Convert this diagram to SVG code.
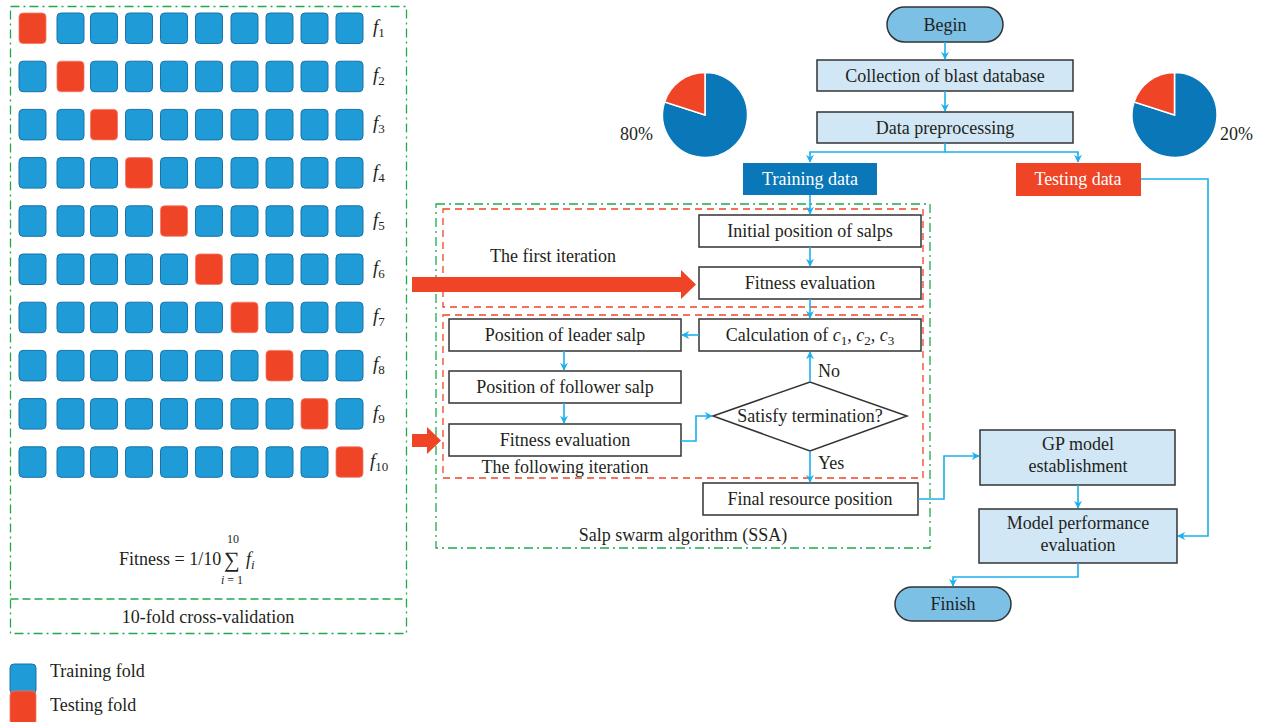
<svg xmlns="http://www.w3.org/2000/svg" width="1261" height="722" viewBox="0 0 1261 722">
<style>
text{font-family:"Liberation Serif","Times New Roman",serif;font-size:18px;fill:#231f20}
.tr{fill:#1f9bd7;stroke:#1a72a6;stroke-width:1}
.te{fill:#ef4426;stroke:#f07a66;stroke-width:0.8}
.fl{font-style:italic;font-size:19px}
.sub{font-size:13px;font-style:normal}
.subi{font-size:13px;font-style:italic}
.grn{fill:none;stroke:#1faa4a;stroke-width:1.3;stroke-dasharray:9 4 2 4}
.grnd{fill:none;stroke:#1faa4a;stroke-width:1.3;stroke-dasharray:8 4}
.red{fill:none;stroke:#ef4426;stroke-width:1.3;stroke-dasharray:7 5}
.lb{fill:#d1e7f5;stroke:#333;stroke-width:1.5}
.wb{fill:#fff;stroke:#333;stroke-width:1.5}
.pill{fill:#7cc0e6;stroke:#333;stroke-width:1.5}
.c{fill:none;stroke:#1cb0ee;stroke-width:1.6}
.m{text-anchor:middle}
.wt{fill:#fff}
</style>
<defs>
<marker id="ah" viewBox="0 0 10 10" refX="9" refY="5" markerWidth="8" markerHeight="8" markerUnits="userSpaceOnUse" orient="auto">
<path d="M0,0 L10,5 L0,10 L3,5 z" fill="#1cb0ee"/>
</marker>
</defs>

<g id="cross-validation">
<rect class="grn" x="10.5" y="6.5" width="396" height="627"/>
<line class="grnd" x1="10.5" y1="599" x2="406.5" y2="599"/>
<text class="m" x="208" y="623">10-fold cross-validation</text>
<g id="grid">
<g id="row1"><rect class="te" x="19" y="13" width="27" height="30.5" rx="4"/><rect class="tr" x="57" y="13" width="27" height="30.5" rx="4"/><rect class="tr" x="90.5" y="13" width="27" height="30.5" rx="4"/><rect class="tr" x="125.5" y="13" width="27" height="30.5" rx="4"/><rect class="tr" x="160.5" y="13" width="27" height="30.5" rx="4"/><rect class="tr" x="195.5" y="13" width="27" height="30.5" rx="4"/><rect class="tr" x="231" y="13" width="27" height="30.5" rx="4"/><rect class="tr" x="266" y="13" width="27" height="30.5" rx="4"/><rect class="tr" x="301" y="13" width="27" height="30.5" rx="4"/><rect class="tr" x="336" y="13" width="27" height="30.5" rx="4"/><text class="fl" x="373" y="33">f<tspan class="sub" dy="4">1</tspan></text></g>
<g id="row2"><rect class="tr" x="19" y="61.2" width="27" height="30.5" rx="4"/><rect class="te" x="57" y="61.2" width="27" height="30.5" rx="4"/><rect class="tr" x="90.5" y="61.2" width="27" height="30.5" rx="4"/><rect class="tr" x="125.5" y="61.2" width="27" height="30.5" rx="4"/><rect class="tr" x="160.5" y="61.2" width="27" height="30.5" rx="4"/><rect class="tr" x="195.5" y="61.2" width="27" height="30.5" rx="4"/><rect class="tr" x="231" y="61.2" width="27" height="30.5" rx="4"/><rect class="tr" x="266" y="61.2" width="27" height="30.5" rx="4"/><rect class="tr" x="301" y="61.2" width="27" height="30.5" rx="4"/><rect class="tr" x="336" y="61.2" width="27" height="30.5" rx="4"/><text class="fl" x="373" y="81.2">f<tspan class="sub" dy="4">2</tspan></text></g>
<g id="row3"><rect class="tr" x="19" y="109.4" width="27" height="30.5" rx="4"/><rect class="tr" x="57" y="109.4" width="27" height="30.5" rx="4"/><rect class="te" x="90.5" y="109.4" width="27" height="30.5" rx="4"/><rect class="tr" x="125.5" y="109.4" width="27" height="30.5" rx="4"/><rect class="tr" x="160.5" y="109.4" width="27" height="30.5" rx="4"/><rect class="tr" x="195.5" y="109.4" width="27" height="30.5" rx="4"/><rect class="tr" x="231" y="109.4" width="27" height="30.5" rx="4"/><rect class="tr" x="266" y="109.4" width="27" height="30.5" rx="4"/><rect class="tr" x="301" y="109.4" width="27" height="30.5" rx="4"/><rect class="tr" x="336" y="109.4" width="27" height="30.5" rx="4"/><text class="fl" x="373" y="129.4">f<tspan class="sub" dy="4">3</tspan></text></g>
<g id="row4"><rect class="tr" x="19" y="157.6" width="27" height="30.5" rx="4"/><rect class="tr" x="57" y="157.6" width="27" height="30.5" rx="4"/><rect class="tr" x="90.5" y="157.6" width="27" height="30.5" rx="4"/><rect class="te" x="125.5" y="157.6" width="27" height="30.5" rx="4"/><rect class="tr" x="160.5" y="157.6" width="27" height="30.5" rx="4"/><rect class="tr" x="195.5" y="157.6" width="27" height="30.5" rx="4"/><rect class="tr" x="231" y="157.6" width="27" height="30.5" rx="4"/><rect class="tr" x="266" y="157.6" width="27" height="30.5" rx="4"/><rect class="tr" x="301" y="157.6" width="27" height="30.5" rx="4"/><rect class="tr" x="336" y="157.6" width="27" height="30.5" rx="4"/><text class="fl" x="373" y="177.6">f<tspan class="sub" dy="4">4</tspan></text></g>
<g id="row5"><rect class="tr" x="19" y="205.8" width="27" height="30.5" rx="4"/><rect class="tr" x="57" y="205.8" width="27" height="30.5" rx="4"/><rect class="tr" x="90.5" y="205.8" width="27" height="30.5" rx="4"/><rect class="tr" x="125.5" y="205.8" width="27" height="30.5" rx="4"/><rect class="te" x="160.5" y="205.8" width="27" height="30.5" rx="4"/><rect class="tr" x="195.5" y="205.8" width="27" height="30.5" rx="4"/><rect class="tr" x="231" y="205.8" width="27" height="30.5" rx="4"/><rect class="tr" x="266" y="205.8" width="27" height="30.5" rx="4"/><rect class="tr" x="301" y="205.8" width="27" height="30.5" rx="4"/><rect class="tr" x="336" y="205.8" width="27" height="30.5" rx="4"/><text class="fl" x="373" y="225.8">f<tspan class="sub" dy="4">5</tspan></text></g>
<g id="row6"><rect class="tr" x="19" y="254" width="27" height="30.5" rx="4"/><rect class="tr" x="57" y="254" width="27" height="30.5" rx="4"/><rect class="tr" x="90.5" y="254" width="27" height="30.5" rx="4"/><rect class="tr" x="125.5" y="254" width="27" height="30.5" rx="4"/><rect class="tr" x="160.5" y="254" width="27" height="30.5" rx="4"/><rect class="te" x="195.5" y="254" width="27" height="30.5" rx="4"/><rect class="tr" x="231" y="254" width="27" height="30.5" rx="4"/><rect class="tr" x="266" y="254" width="27" height="30.5" rx="4"/><rect class="tr" x="301" y="254" width="27" height="30.5" rx="4"/><rect class="tr" x="336" y="254" width="27" height="30.5" rx="4"/><text class="fl" x="373" y="274">f<tspan class="sub" dy="4">6</tspan></text></g>
<g id="row7"><rect class="tr" x="19" y="302.2" width="27" height="30.5" rx="4"/><rect class="tr" x="57" y="302.2" width="27" height="30.5" rx="4"/><rect class="tr" x="90.5" y="302.2" width="27" height="30.5" rx="4"/><rect class="tr" x="125.5" y="302.2" width="27" height="30.5" rx="4"/><rect class="tr" x="160.5" y="302.2" width="27" height="30.5" rx="4"/><rect class="tr" x="195.5" y="302.2" width="27" height="30.5" rx="4"/><rect class="te" x="231" y="302.2" width="27" height="30.5" rx="4"/><rect class="tr" x="266" y="302.2" width="27" height="30.5" rx="4"/><rect class="tr" x="301" y="302.2" width="27" height="30.5" rx="4"/><rect class="tr" x="336" y="302.2" width="27" height="30.5" rx="4"/><text class="fl" x="373" y="322.2">f<tspan class="sub" dy="4">7</tspan></text></g>
<g id="row8"><rect class="tr" x="19" y="350.4" width="27" height="30.5" rx="4"/><rect class="tr" x="57" y="350.4" width="27" height="30.5" rx="4"/><rect class="tr" x="90.5" y="350.4" width="27" height="30.5" rx="4"/><rect class="tr" x="125.5" y="350.4" width="27" height="30.5" rx="4"/><rect class="tr" x="160.5" y="350.4" width="27" height="30.5" rx="4"/><rect class="tr" x="195.5" y="350.4" width="27" height="30.5" rx="4"/><rect class="tr" x="231" y="350.4" width="27" height="30.5" rx="4"/><rect class="te" x="266" y="350.4" width="27" height="30.5" rx="4"/><rect class="tr" x="301" y="350.4" width="27" height="30.5" rx="4"/><rect class="tr" x="336" y="350.4" width="27" height="30.5" rx="4"/><text class="fl" x="373" y="370.4">f<tspan class="sub" dy="4">8</tspan></text></g>
<g id="row9"><rect class="tr" x="19" y="398.6" width="27" height="30.5" rx="4"/><rect class="tr" x="57" y="398.6" width="27" height="30.5" rx="4"/><rect class="tr" x="90.5" y="398.6" width="27" height="30.5" rx="4"/><rect class="tr" x="125.5" y="398.6" width="27" height="30.5" rx="4"/><rect class="tr" x="160.5" y="398.6" width="27" height="30.5" rx="4"/><rect class="tr" x="195.5" y="398.6" width="27" height="30.5" rx="4"/><rect class="tr" x="231" y="398.6" width="27" height="30.5" rx="4"/><rect class="tr" x="266" y="398.6" width="27" height="30.5" rx="4"/><rect class="te" x="301" y="398.6" width="27" height="30.5" rx="4"/><rect class="tr" x="336" y="398.6" width="27" height="30.5" rx="4"/><text class="fl" x="373" y="418.6">f<tspan class="sub" dy="4">9</tspan></text></g>
<g id="row10"><rect class="tr" x="19" y="446.8" width="27" height="30.5" rx="4"/><rect class="tr" x="57" y="446.8" width="27" height="30.5" rx="4"/><rect class="tr" x="90.5" y="446.8" width="27" height="30.5" rx="4"/><rect class="tr" x="125.5" y="446.8" width="27" height="30.5" rx="4"/><rect class="tr" x="160.5" y="446.8" width="27" height="30.5" rx="4"/><rect class="tr" x="195.5" y="446.8" width="27" height="30.5" rx="4"/><rect class="tr" x="231" y="446.8" width="27" height="30.5" rx="4"/><rect class="tr" x="266" y="446.8" width="27" height="30.5" rx="4"/><rect class="tr" x="301" y="446.8" width="27" height="30.5" rx="4"/><rect class="te" x="336" y="446.8" width="27" height="30.5" rx="4"/><text class="fl" x="370" y="466.8">f<tspan class="sub" dy="4">10</tspan></text></g>
</g>
<g id="formula">
<text x="119" y="565">Fitness = 1/10</text>
<text x="224" y="567" style="font-size:22px">∑</text>
<text class="m" x="233" y="543" style="font-size:12px">10</text>
<text class="m" x="232" y="584" style="font-size:12px"><tspan font-style="italic">i</tspan> = 1</text>
<text class="fl" x="246" y="565" style="font-size:18px">f<tspan class="subi" dy="4">i</tspan></text>
</g>
</g>

<g id="legend">
<rect class="tr" x="10" y="664" width="26" height="30" rx="4"/>
<rect class="te" x="10" y="691" width="26" height="34" rx="4"/>
<text x="50" y="677">Training fold</text>
<text x="50" y="711">Testing fold</text>
</g>

<g id="pie-train">
<path d="M705,115 L705,72.5 A42.5,42.5 0 1,1 664.6,101.9 Z" fill="#0a77b8" stroke="#fff" stroke-width="1.5"/>
<path d="M705,115 L705,72.5 A42.5,42.5 0 0,0 664.6,101.9 Z" fill="#ef4426" stroke="#fff" stroke-width="1.5"/>
<text x="620" y="140">80%</text>
</g>
<g id="pie-test">
<path d="M1174.5,115 L1174.5,72.5 A42.5,42.5 0 1,1 1134.1,101.9 Z" fill="#0a77b8" stroke="#fff" stroke-width="1.5"/>
<path d="M1174.5,115 L1174.5,72.5 A42.5,42.5 0 0,0 1134.1,101.9 Z" fill="#ef4426" stroke="#fff" stroke-width="1.5"/>
<text x="1220" y="140">20%</text>
</g>

<g id="ssa-frame">
<rect class="grn" x="436" y="204" width="494" height="344"/>
<rect class="red" x="443" y="209" width="480" height="98"/>
<rect class="red" x="443" y="315" width="480" height="163"/>
<text x="490" y="262">The first iteration</text>
<text class="m" x="565" y="473">The following iteration</text>
<text class="m" x="683" y="541">Salp swarm algorithm (SSA)</text>
</g>

<g id="big-arrows">
<path d="M412,277 H681 V270 L696,284.5 L681,299 V292 H412 Z" fill="#ef4426"/>
<path d="M412,434 H427 V427 L441,440.5 L427,454 V447 H412 Z" fill="#ef4426"/>
</g>

<g id="begin"><rect class="pill" x="887" y="7" width="116" height="35" rx="17.5"/><text class="m" x="945" y="31">Begin</text></g>
<g id="collection"><rect class="lb" x="817" y="60" width="256" height="31"/><text class="m" x="945" y="81.5">Collection of blast database</text></g>
<g id="preprocessing"><rect class="lb" x="817" y="112" width="256" height="31"/><text class="m" x="945" y="133.5">Data preprocessing</text></g>
<g id="training-data"><rect x="743" y="163" width="134" height="32" fill="#0a77b8"/><text class="m wt" x="810" y="185">Training data</text></g>
<g id="testing-data"><rect x="1016" y="163" width="125" height="33" fill="#ef4426"/><text class="m wt" x="1078" y="185">Testing data</text></g>
<g id="initial"><rect class="wb" x="699" y="215" width="222" height="32"/><text class="m" x="810" y="237">Initial position of salps</text></g>
<g id="fitness1"><rect class="wb" x="699" y="267" width="222" height="32"/><text class="m" x="810" y="289">Fitness evaluation</text></g>
<g id="calculation"><rect class="wb" x="699" y="319" width="222" height="32"/><text class="m" x="810" y="341">Calculation of <tspan font-style="italic">c</tspan><tspan class="sub" dy="4">1</tspan><tspan dy="-4">, </tspan><tspan font-style="italic">c</tspan><tspan class="sub" dy="4">2</tspan><tspan dy="-4">, </tspan><tspan font-style="italic">c</tspan><tspan class="sub" dy="4">3</tspan></text></g>
<g id="leader"><rect class="wb" x="449" y="319" width="232" height="32"/><text class="m" x="565" y="341">Position of leader salp</text></g>
<g id="follower"><rect class="wb" x="449" y="371" width="232" height="32"/><text class="m" x="565" y="393">Position of follower salp</text></g>
<g id="fitness2"><rect class="wb" x="449" y="424" width="232" height="32"/><text class="m" x="565" y="446">Fitness evaluation</text></g>
<g id="termination"><polygon class="wb" points="713,416 810,382 907,416 810,451"/><text class="m" x="810" y="422">Satisfy termination?</text></g>
<g id="final"><rect class="wb" x="703" y="483" width="215" height="32"/><text class="m" x="810" y="505">Final resource position</text></g>
<g id="gp"><rect class="lb" x="980" y="430" width="195" height="55"/><text class="m" x="1078" y="450">GP model</text><text class="m" x="1078" y="472">establishment</text></g>
<g id="performance"><rect class="lb" x="979" y="509" width="198" height="54"/><text class="m" x="1078" y="529">Model performance</text><text class="m" x="1078" y="551">evaluation</text></g>
<g id="finish"><rect class="pill" x="895" y="587" width="116" height="34" rx="17"/><text class="m" x="953" y="610">Finish</text></g>

<g id="connectors">
<path class="c" d="M945,42 V59" marker-end="url(#ah)"/>
<path class="c" d="M945,91 V111" marker-end="url(#ah)"/>
<path class="c" d="M945,143 V152 H810 V162" marker-end="url(#ah)"/>
<path class="c" d="M945,152 H1078 V162" marker-end="url(#ah)"/>
<path class="c" d="M1141,179 H1208 V536 H1178" marker-end="url(#ah)"/>
<path class="c" d="M810,195 V214" marker-end="url(#ah)"/>
<path class="c" d="M810,247 V266" marker-end="url(#ah)"/>
<path class="c" d="M810,299 V318" marker-end="url(#ah)"/>
<path class="c" d="M699,335 H682" marker-end="url(#ah)"/>
<path class="c" d="M564,351 V370" marker-end="url(#ah)"/>
<path class="c" d="M564,403 V423" marker-end="url(#ah)"/>
<path class="c" d="M681,441 H696 V416 H712" marker-end="url(#ah)"/>
<path class="c" d="M810,382 V352" marker-end="url(#ah)"/>
<path class="c" d="M810,451 V482" marker-end="url(#ah)"/>
<path class="c" d="M918,499 H944 V456 H979" marker-end="url(#ah)"/>
<path class="c" d="M1078,485 V508" marker-end="url(#ah)"/>
<path class="c" d="M1078,563 V577 H953 V586" marker-end="url(#ah)"/>
<text x="818" y="377">No</text>
<text x="818" y="469">Yes</text>
</g>
</svg>
